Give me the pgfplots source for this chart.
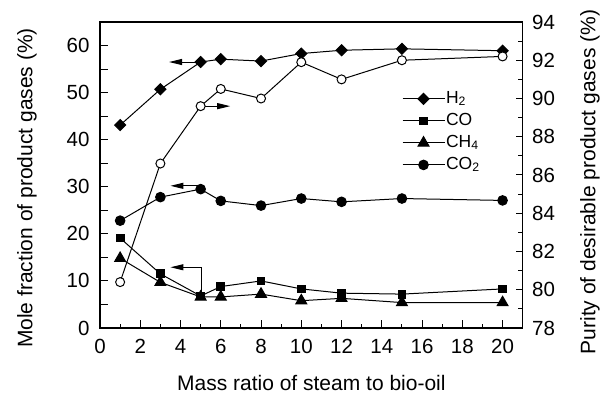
\documentclass[border=0pt]{standalone}
\usepackage{fontspec}
\setmainfont{Liberation Sans}
\usepackage{pgfplots}
\pgfplotsset{compat=1.18}
\usetikzlibrary{arrows.meta}

\begin{document}
\begin{tikzpicture}
\tikzset{arr/.style={line width=1bp, -{Triangle[length=13bp,width=6bp]}}}
\pgfplotsset{
  common/.style={
    scale only axis, width=422.7bp, height=306bp,
    xmin=0, xmax=21,
    /pgf/number format/assume math mode=true,
    tick label style={font=\fontsize{20.5bp}{24bp}\selectfont},
    label style={font=\fontsize{21bp}{25bp}\selectfont},
    axis line style={line width=1.2bp},
    every tick/.style={black, line width=1bp},
    tick align=inside,
    every axis plot/.append style={black, line width=1bp},
  },
}
% left axis: mole fractions
\begin{axis}[common, ymin=0, ymax=65,
  xtick={0,2,...,20}, minor xtick={1,3,...,19},
  ytick={0,5,...,60}, yticklabels={0,,10,,20,,30,,40,,50,,60},
  xtick pos=left, ytick pos=left,
  xticklabel style={yshift=-8bp},
  yticklabel style={xshift=-7bp},
  major tick length=8bp, minor tick length=4.5bp,
  xlabel={Mass ratio of steam to bio-oil},
  xlabel style={at={(axis description cs:0.5,-0.205)}, anchor=base, inner sep=0pt},
  ylabel={Mole fraction of product gases (\%)},
  ylabel style={at={(axis description cs:-0.173,0.4575)}, anchor=center, inner sep=0pt},
  legend style={at={(rel axis cs:0.707,0.786)}, anchor=north west, draw=none, fill=none,
    font=\fontsize{17.5bp}{20bp}\selectfont, row sep=3.5bp, column sep=0bp,
    nodes={inner sep=1bp, text height=12.5bp, text depth=4bp, xshift=-12bp}},
  legend cell align=left,
  legend image code/.code={%
    \draw[#1, mark=none] (0bp,0bp) -- (42bp,0bp);
    \draw[#1] plot[only marks] coordinates {(21bp,0bp)};},
]
\coordinate (bl) at (rel axis cs:0,0);
\coordinate (tr) at (rel axis cs:1,1);
\draw[arr] (axis cs:5,56.5) -- (axis cs:3.43,56.5);
\draw[arr] (axis cs:5.05,30.2) -- (axis cs:3.5,30.2);
\draw[arr] (axis cs:5.05,7) -- (axis cs:5.05,12.9) -- (axis cs:3.5,12.9);

\addplot[mark=square*, mark size=3.9bp, mark options={rotate=45, fill=black}]
  coordinates {(1,43.1)(3,50.7)(5,56.5)(6,57.1)(8,56.7)(10,58.3)(12,59.0)(15,59.3)(20,58.9)};
\addlegendentry{H\textsubscript{2}}
\addplot[mark=square*, mark size=3.9bp, mark options={fill=black}]
  coordinates {(1,19.1)(3,11.5)(5,6.8)(6,8.8)(8,10.0)(10,8.3)(12,7.4)(15,7.2)(20,8.3)};
\addlegendentry{CO}
\addplot[mark=triangle*, mark size=6.3bp, mark options={fill=black}]
  coordinates {(1,14.8)(3,9.7)(5,6.6)(6,6.6)(8,7.2)(10,5.8)(12,6.3)(15,5.4)(20,5.4)};
\addlegendentry{CH\textsubscript{4}}
\addplot[mark=*, mark size=4.8bp, mark options={fill=black}]
  coordinates {(1,22.8)(3,27.8)(5,29.5)(6,27.0)(8,26.0)(10,27.5)(12,26.8)(15,27.5)(20,27.1)};
\addlegendentry{CO\textsubscript{2}}
\end{axis}

% right axis: purity of desirable gases
\begin{axis}[common, ymin=78, ymax=94,
  axis y line*=right, axis x line=none,
  ytick={78,80,...,94}, minor ytick={79,81,...,93},
  yticklabel style={xshift=6bp},
  major tick length=7bp, minor tick length=5bp,
  ylabel={Purity of desirable product gases (\%)},
  ylabel style={at={(axis description cs:1.159,0.477)}, anchor=center, inner sep=0pt},
]
\draw[arr] (axis cs:5,89.6) -- (axis cs:6.47,89.6);
\addplot[mark=*, mark size=4.5bp, mark options={fill=white}]
  coordinates {(1,80.4)(3,86.6)(5,89.6)(6,90.5)(8,90.0)(10,91.9)(12,91.0)(15,92.0)(20,92.2)};
\end{axis}

\pgfresetboundingbox
\path ([shift={(-100bp,-66bp)}]bl) rectangle ([shift={(78.3bp,22bp)}]tr);
\end{tikzpicture}
\end{document}
